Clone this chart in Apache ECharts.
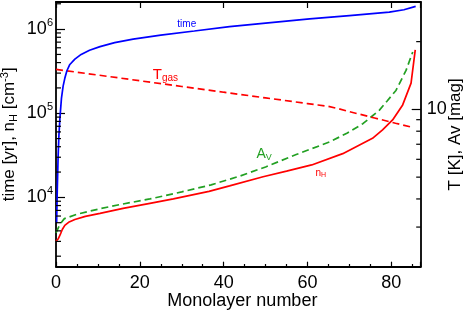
<!DOCTYPE html>
<html><head><meta charset="utf-8">
<script src="https://cdn.jsdelivr.net/npm/echarts@6/dist/echarts.min.js"></script>
<style>html,body{margin:0;padding:0;background:#fff}#c{width:463px;height:311px}</style>
</head><body><div id="c"></div>
<script>
// ---- data ----
const timeX = [0.15, 0.3, 0.5, 0.7, 0.95, 1.3, 1.7, 2.1, 2.6, 3.3, 4.5, 6, 8, 10.5, 14, 18.4, 25, 33, 41.4, 50, 60.5, 70, 79.5, 83, 85.8];
const timeY = [5000, 12000, 30000, 55000, 90000, 150000, 210000, 260000, 320000, 380000, 440000, 500000, 560000, 620000, 690000, 760000, 850000, 950000, 1070000, 1180000, 1320000, 1450000, 1590000, 1700000, 1860000];

const nhX = [0, 0.5, 1, 1.5, 2.1, 3, 4.5, 7, 10.5, 16, 22.4, 28, 36.5, 41.4, 49.4, 55, 61, 68.4, 75.5, 77.9, 80.3, 82.7, 84.7, 85.7];
const nhY = [3020, 3200, 3600, 4150, 4650, 5050, 5450, 5950, 6450, 7400, 8500, 9600, 11800, 13700, 17600, 20500, 24300, 33100, 50400, 63500, 83200, 125600, 228000, 568000];

const avX = [0, 1, 2, 5, 10.5, 16, 22.4, 30, 37, 43.8, 50, 57.3, 65.2, 69.5, 73.2, 77.1, 79, 81.1, 83.5, 85.1];
const avY = [2.83, 3.10, 3.27, 3.42, 3.62, 3.80, 4.00, 4.30, 4.62, 5.05, 5.55, 6.3, 7.16, 7.85, 8.64, 9.90, 10.9, 12.14, 14.9, 18.0];

const tgasX = [0, 10, 20, 30, 40, 50, 60, 62.5, 65, 67.5, 70, 76, 81, 84.7];
const tgasY = [15.06, 14.21, 13.40, 12.64, 11.92, 11.25, 10.61, 10.46, 10.31, 10.06, 9.77, 9.16, 8.68, 8.35];

const leftMajorTicks = [1e4, 1e5, 1e6];
const rightMajorTicks = [10];
const rightMinorTicks = [3, 4, 5, 6, 7, 8, 9, 20];

// ---- axis ranges ----
const X_MIN = 0, X_MAX = 87;
const L_MIN = 1500, L_MAX = 2.1e6;
const R_MIN = 2, R_MAX = 30;

const leftMinorTicks = [];
for (let k = 3; k <= 6; k++) for (let m = 2; m <= 9; m++) {
  const v = m * Math.pow(10, k);
  if (v > L_MIN && v < L_MAX) leftMinorTicks.push(v);
}

const FONT = '"Liberation Sans", Arial, Helvetica, sans-serif';
const BLUE = '#0000ff', RED = '#ff0000', GREEN = '#22a022';

function zip(xs, ys) { return xs.map((x, i) => [x, ys[i]]); }
function isPow10(v) { const e = Math.log10(v); return Math.abs(e - Math.round(e)) < 1e-6; }

const chart = echarts.init(document.getElementById('c'), null, { renderer: 'canvas' });
const axisLine = { show: true, onZero: false, lineStyle: { color: '#000', width: 1.8 } };

chart.setOption({
  animation: false,
  backgroundColor: '#fff',
  textStyle: { fontFamily: FONT },
  grid: { left: 56, right: 42.3, top: 2, bottom: 44.3, containLabel: false, outerBoundsMode: 'none' },
  xAxis: [{
    type: 'value', min: X_MIN, max: X_MAX, interval: 20, position: 'bottom',
    axisLine: axisLine,
    axisTick: { show: true, inside: true, length: 5, lineStyle: { color: '#000', width: 1.2 } },
    minorTick: { show: true, splitNumber: 4, length: 2.7, lineStyle: { color: '#000', width: 1.2 } },
    axisLabel: { show: true, fontSize: 18, color: '#000', margin: 7, fontFamily: FONT, showMaxLabel: false },
    splitLine: { show: false },
    name: 'Monolayer number', nameLocation: 'middle', nameGap: 25, nameMoveOverlap: false,
    nameTextStyle: { fontSize: 18, color: '#000', fontFamily: FONT, padding: [0, 0, 0, 8] }
  }, {
    type: 'value', min: X_MIN, max: X_MAX, interval: 20, position: 'top',
    axisLine: axisLine,
    axisTick: { show: true, inside: true, length: 6, lineStyle: { color: '#000', width: 1.2 } },
    axisLabel: { show: false }, splitLine: { show: false }
  }],
  yAxis: [{
    type: 'log', logBase: 10, min: L_MIN, max: L_MAX, position: 'left',
    axisLine: axisLine,
    axisTick: { show: true, inside: true, length: 9, lineStyle: { color: '#000', width: 1.2 },
      customValues: leftMajorTicks },
    axisLabel: {
      show: true, margin: 3, color: '#000', fontFamily: FONT,
      customValues: leftMajorTicks,
      formatter: v => isPow10(v) ? '{b|10}{s|' + Math.round(Math.log10(v)) + '}' : '',
      rich: {
        b: { fontSize: 18, lineHeight: 24, fontFamily: FONT, color: '#000' },
        s: { fontSize: 11, lineHeight: 12, verticalAlign: 'top', fontFamily: FONT, color: '#000' }
      }
    },
    splitLine: { show: false },
    name: '{m|time [yr], n}{sub|H}{m| [cm}{sup|-3}{m|]}',
    nameLocation: 'middle', nameRotate: 90, nameGap: 37, nameMoveOverlap: false,
    nameTextStyle: {
      color: '#000', fontFamily: FONT,
      rich: {
        m: { fontSize: 17, lineHeight: 20, fontFamily: FONT, color: '#000' },
        sub: { fontSize: 11, lineHeight: 11, verticalAlign: 'bottom', fontFamily: FONT, color: '#000' },
        sup: { fontSize: 11, lineHeight: 11, verticalAlign: 'top', fontFamily: FONT, color: '#000' }
      }
    }
  }, {
    type: 'log', logBase: 10, min: R_MIN, max: R_MAX, position: 'right',
    axisLine: axisLine,
    axisTick: { show: true, inside: true, length: 9, lineStyle: { color: '#000', width: 1.2 },
      customValues: rightMajorTicks },
    axisLabel: { show: true, margin: 6, fontSize: 18, color: '#000', fontFamily: FONT,
      customValues: rightMajorTicks,
      formatter: v => isPow10(v) ? String(Math.round(v)) : '' },
    splitLine: { show: false },
    name: 'T [K], Av [mag]', nameLocation: 'middle', nameRotate: 90, nameGap: 26, nameMoveOverlap: false,
    nameTextStyle: { fontSize: 17, color: '#000', fontFamily: FONT }
  }],
  series: [
    { name: 'time', type: 'line', xAxisIndex: 0, yAxisIndex: 0, data: zip(timeX, timeY),
      showSymbol: false, symbol: 'none', lineStyle: { color: BLUE, width: 1.7 }, z: 3 },
    { name: 'nH', type: 'line', xAxisIndex: 0, yAxisIndex: 0, data: zip(nhX, nhY),
      showSymbol: false, symbol: 'none', lineStyle: { color: RED, width: 1.7 }, z: 3 },
    { name: 'Av', type: 'line', xAxisIndex: 0, yAxisIndex: 1, data: zip(avX, avY),
      showSymbol: false, symbol: 'none', lineStyle: { color: GREEN, width: 1.7, type: [7, 4] }, z: 2 },
    { name: 'Tgas', type: 'line', xAxisIndex: 0, yAxisIndex: 1, data: zip(tgasX, tgasY),
      showSymbol: false, symbol: 'none', lineStyle: { color: RED, width: 1.7, type: [7, 4] }, z: 2 }
  ]
});

// ---- minor log ticks and in-plot labels, positioned through the axes' scales ----
function px(x, y, yIdx) { return chart.convertToPixel({ xAxisIndex: 0, yAxisIndex: yIdx }, [x, y]); }
const graphics = [];
function addTicks(values, yIdx, xAt, dir, len) {
  values.forEach(v => {
    const p = px(xAt, v, yIdx);
    graphics.push({ type: 'line', silent: true, z: 50,
      shape: { x1: p[0], y1: p[1], x2: p[0] + dir * len, y2: p[1] },
      style: { stroke: '#000', lineWidth: 1.2 } });
  });
}
addTicks(leftMinorTicks, 0, X_MIN, 1, 5);
addTicks(rightMinorTicks, 1, X_MAX, -1, 4.5);

const pTime = px(31.2, 1.156e6, 0);
const pT = px(23.1, 14.3, 1);
const pAv = px(47.8, 6.35, 1);
const pNh = px(61.9, 19450, 0);
graphics.push(
  { type: 'text', x: pTime[0], y: pTime[1], silent: true, z: 20,
    style: { text: 'time', fill: BLUE, font: '10px ' + FONT, align: 'center', verticalAlign: 'middle' } },
  { type: 'text', x: pT[0], y: pT[1], silent: true, z: 20,
    style: { text: '{a|T}{b|gas}', align: 'left', verticalAlign: 'middle',
      rich: { a: { fontSize: 15, lineHeight: 18, fill: RED, fontFamily: FONT },
              b: { fontSize: 10, lineHeight: 10, verticalAlign: 'bottom', fill: RED, fontFamily: FONT } } } },
  { type: 'text', x: pAv[0], y: pAv[1], silent: true, z: 20,
    style: { text: '{a|A}{b|V}', align: 'left', verticalAlign: 'middle',
      rich: { a: { fontSize: 14, lineHeight: 16, fill: GREEN, fontFamily: FONT },
              b: { fontSize: 9, lineHeight: 9, verticalAlign: 'bottom', fill: GREEN, fontFamily: FONT } } } },
  { type: 'text', x: pNh[0], y: pNh[1], silent: true, z: 20,
    style: { text: '{a|n}{b|H}', align: 'left', verticalAlign: 'middle',
      rich: { a: { fontSize: 10, lineHeight: 11, fill: RED, fontFamily: FONT },
              b: { fontSize: 7, lineHeight: 7, verticalAlign: 'bottom', fill: RED, fontFamily: FONT } } } }
);
chart.setOption({ graphic: graphics });
</script>
</body></html>
